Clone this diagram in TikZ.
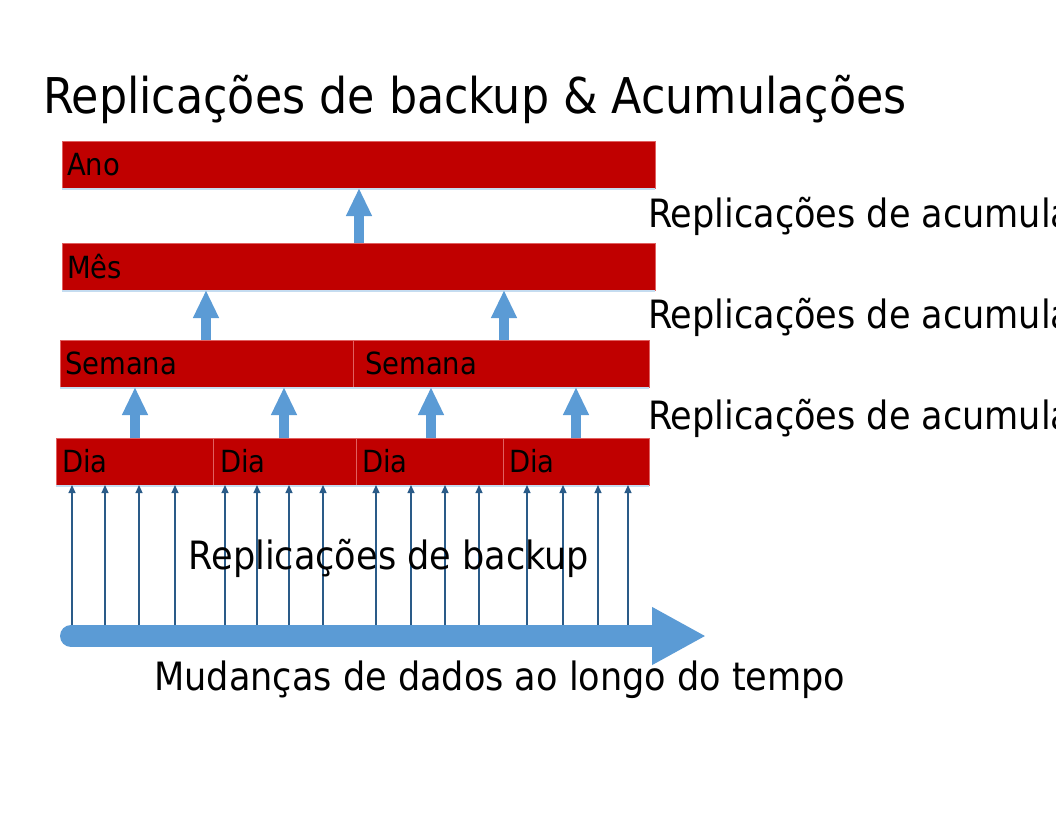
\documentclass[tikz,border=0pt]{standalone}
\usepackage{fontspec}
\setmainfont{DejaVu Sans Condensed}
\usetikzlibrary{arrows.meta,calc}
\definecolor{boxred}{HTML}{C00000}
\definecolor{boxedge}{HTML}{E06060}
\definecolor{shadowblue}{HTML}{C5DCF0}
\definecolor{bigblue}{HTML}{5B9BD5}
\definecolor{thinblue}{HTML}{2A5B88}
\tikzset{
  box/.style={fill=boxred, draw=boxedge, line width=0.8pt, minimum height=47pt, inner sep=0pt, outer sep=0pt,
    font=\fontsize{30.5}{33}\selectfont, align=left},
  uparrow/.style={draw=bigblue, line width=10pt, -{Triangle[width=24pt,length=28pt]}},
  thinarrow/.style={draw=thinblue, line width=1.1pt, -{Triangle[width=7pt,length=8pt]}},
  biglabel/.style={font=\fontsize{39}{44}\selectfont, inner sep=0pt, anchor=base west},
}
\newcommand{\mkbox}[6]{% name, x1, x2, ytop, indent, label
  \pgfmathsetmacro\mybw{#3-#2}%
  \pgfmathsetmacro\mytw{#3-#2-2*#5}%
  \node[box, anchor=north west, minimum width=\mybw pt, text width=\mytw pt] (#1) at (#2,#4) {#6};
  \draw[shadowblue, line width=1.5pt] ($(#1.south west)+(0,1)$) -- ($(#1.south east)+(0,1)$);
}
\begin{document}
\begin{tikzpicture}[x=1pt,y=-1pt]
\useasboundingbox (0,0) rectangle (1056,816);
\fill[white] (0,0) rectangle (1056,816);
% title
\node[font=\fontsize{49.3}{55}\selectfont, inner sep=0pt, anchor=base west] (title) at (43,113) {Replicações de backup \& Acumulações};
% boxes
\mkbox{ano}{62}{655}{141}{5}{Ano}
\mkbox{mes}{62}{655}{243}{5}{Mês}
\mkbox{sem1}{60}{353}{340}{5}{Semana}
\mkbox{sem2}{353}{649}{340}{12}{Semana}
\mkbox{dia1}{56}{213}{438}{6}{Dia}
\mkbox{dia2}{213}{356}{438}{7}{Dia}
\mkbox{dia3}{356}{503}{438}{6}{Dia}
\mkbox{dia4}{503}{649}{438}{6}{Dia}
% thick arrows
\draw[uparrow] ({359,0} |- mes.north) -- ({359,0} |- ano.south);
\draw[uparrow] ({206,0} |- sem1.north) -- ({206,0} |- mes.south);
\draw[uparrow] ({504,0} |- sem2.north) -- ({504,0} |- mes.south);
\draw[uparrow] ({135,0} |- dia1.north) -- ({135,0} |- sem1.south);
\draw[uparrow] ({284,0} |- dia2.north) -- ({284,0} |- sem1.south);
\draw[uparrow] ({431,0} |- dia3.north) -- ({431,0} |- sem2.south);
\draw[uparrow] ({576,0} |- dia4.north) -- ({576,0} |- sem2.south);
% right labels
\node[biglabel] (l1) at (648,227) {Replicações de acumulação};
\node[biglabel] (l2) at (648,328) {Replicações de acumulação};
\node[biglabel] (l3) at (648,429) {Replicações de acumulação};
% time axis
\coordinate (tstart) at (71,636);
\coordinate (tend) at (706,636);
% thin arrows
\foreach \x in {72,105,139,175,225,257,289,323,376,411,445,479,527,563,598,628}
  \draw[thinarrow] (\x,626) -- ({\x,0} |- dia1.south);
\draw[draw=bigblue, line width=22pt, line cap=round, -{Triangle[width=54pt,length=54pt]}] (tstart) -- (tend);
% bottom labels
\node[biglabel, anchor=base] (backup) at (389,569) {Replicações de backup};
\node[biglabel, anchor=base] (mud) at (500,690) {Mudanças de dados ao longo do tempo};
\end{tikzpicture}
\end{document}
